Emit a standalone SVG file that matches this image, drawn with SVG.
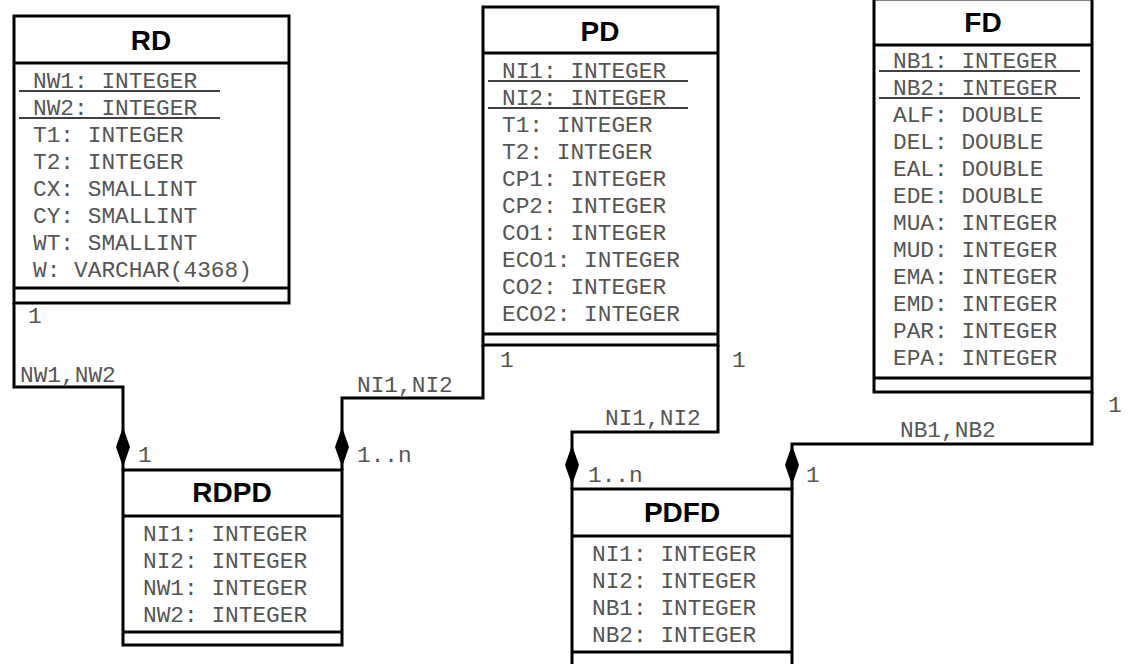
<svg xmlns="http://www.w3.org/2000/svg" width="1128" height="664" viewBox="0 0 1128 664">
<style>
.box{fill:#fff;stroke:#000;stroke-width:3}
.sep{stroke:#000;stroke-width:3}
.ul{stroke:#000;stroke-width:1.5}
.title{font-family:"Liberation Sans",Arial,sans-serif;font-weight:bold;font-size:28px;text-anchor:middle;fill:#000}
.attr{font-family:"Liberation Mono","Courier New",monospace;font-size:22.8px;fill:#555}
.conn{fill:none;stroke:#000;stroke-width:3}
.dia{fill:#000}
</style>
<rect width="1128" height="664" fill="#fff"/>
<g id="connectors">
<polyline class="conn" points="14,303 14,387 123,387 123,470"/>
<polyline class="conn" points="483,345 483,398 342,398 342,470"/>
<polyline class="conn" points="718,345 718,432 572,432 572,489"/>
<polyline class="conn" points="1092,392 1092,444 792,444 792,489"/>
<polygon class="dia" points="123,427 130,447 123,467 116,447"/>
<polygon class="dia" points="342,427 349,447 342,467 335,447"/>
<polygon class="dia" points="572,445 579,465 572,485 565,465"/>
<polygon class="dia" points="792,445 799,465 792,485 785,465"/>
<text class="attr" x="28" y="323">1</text>
<text class="attr" x="20" y="382">NW1,NW2</text>
<text class="attr" x="138" y="462">1</text>
<text class="attr" x="357" y="392">NI1,NI2</text>
<text class="attr" x="357" y="462">1..n</text>
<text class="attr" x="500" y="367">1</text>
<text class="attr" x="732" y="367">1</text>
<text class="attr" x="605" y="425">NI1,NI2</text>
<text class="attr" x="588" y="482">1..n</text>
<text class="attr" x="806" y="482">1</text>
<text class="attr" x="900" y="437">NB1,NB2</text>
<text class="attr" x="1108" y="412">1</text>
</g>
<g id="RD">
<rect class="box" x="14" y="16" width="275" height="287"/>
<line class="sep" x1="14" y1="63" x2="289" y2="63"/>
<line class="sep" x1="14" y1="288" x2="289" y2="288"/>
<text class="title" x="151" y="50">RD</text>
<text class="attr" x="33" y="88">NW1: INTEGER</text>
<line class="ul" x1="19" y1="91" x2="220" y2="91"/>
<text class="attr" x="33" y="115">NW2: INTEGER</text>
<line class="ul" x1="19" y1="118" x2="220" y2="118"/>
<text class="attr" x="33" y="142">T1: INTEGER</text>
<text class="attr" x="33" y="169">T2: INTEGER</text>
<text class="attr" x="33" y="196">CX: SMALLINT</text>
<text class="attr" x="33" y="223">CY: SMALLINT</text>
<text class="attr" x="33" y="250">WT: SMALLINT</text>
<text class="attr" x="33" y="277">W: VARCHAR(4368)</text>
</g>
<g id="PD">
<rect class="box" x="483" y="7" width="235" height="338"/>
<line class="sep" x1="483" y1="53" x2="718" y2="53"/>
<line class="sep" x1="483" y1="334" x2="718" y2="334"/>
<text class="title" x="600" y="41">PD</text>
<text class="attr" x="502" y="78">NI1: INTEGER</text>
<line class="ul" x1="488" y1="81" x2="688" y2="81"/>
<text class="attr" x="502" y="105">NI2: INTEGER</text>
<line class="ul" x1="488" y1="108" x2="688" y2="108"/>
<text class="attr" x="502" y="132">T1: INTEGER</text>
<text class="attr" x="502" y="159">T2: INTEGER</text>
<text class="attr" x="502" y="186">CP1: INTEGER</text>
<text class="attr" x="502" y="213">CP2: INTEGER</text>
<text class="attr" x="502" y="240">CO1: INTEGER</text>
<text class="attr" x="502" y="267">ECO1: INTEGER</text>
<text class="attr" x="502" y="294">CO2: INTEGER</text>
<text class="attr" x="502" y="321">ECO2: INTEGER</text>
</g>
<g id="FD">
<rect class="box" x="874" y="-1" width="218" height="393"/>
<line class="sep" x1="874" y1="45" x2="1092" y2="45"/>
<line class="sep" x1="874" y1="378" x2="1092" y2="378"/>
<text class="title" x="983" y="32">FD</text>
<text class="attr" x="893" y="68">NB1: INTEGER</text>
<line class="ul" x1="879" y1="71" x2="1080" y2="71"/>
<text class="attr" x="893" y="95">NB2: INTEGER</text>
<line class="ul" x1="879" y1="98" x2="1080" y2="98"/>
<text class="attr" x="893" y="122">ALF: DOUBLE</text>
<text class="attr" x="893" y="149">DEL: DOUBLE</text>
<text class="attr" x="893" y="176">EAL: DOUBLE</text>
<text class="attr" x="893" y="203">EDE: DOUBLE</text>
<text class="attr" x="893" y="230">MUA: INTEGER</text>
<text class="attr" x="893" y="257">MUD: INTEGER</text>
<text class="attr" x="893" y="284">EMA: INTEGER</text>
<text class="attr" x="893" y="311">EMD: INTEGER</text>
<text class="attr" x="893" y="338">PAR: INTEGER</text>
<text class="attr" x="893" y="365">EPA: INTEGER</text>
</g>
<g id="RDPD">
<rect class="box" x="123" y="470" width="219" height="175"/>
<line class="sep" x1="123" y1="516" x2="342" y2="516"/>
<line class="sep" x1="123" y1="632" x2="342" y2="632"/>
<text class="title" x="232" y="502">RDPD</text>
<text class="attr" x="143" y="541">NI1: INTEGER</text>
<text class="attr" x="143" y="568">NI2: INTEGER</text>
<text class="attr" x="143" y="595">NW1: INTEGER</text>
<text class="attr" x="143" y="622">NW2: INTEGER</text>
</g>
<g id="PDFD">
<rect class="box" x="572" y="489" width="220" height="185"/>
<line class="sep" x1="572" y1="536" x2="792" y2="536"/>
<line class="sep" x1="572" y1="652" x2="792" y2="652"/>
<text class="title" x="682" y="522">PDFD</text>
<text class="attr" x="592" y="561">NI1: INTEGER</text>
<text class="attr" x="592" y="588">NI2: INTEGER</text>
<text class="attr" x="592" y="615">NB1: INTEGER</text>
<text class="attr" x="592" y="642">NB2: INTEGER</text>
</g>
</svg>
